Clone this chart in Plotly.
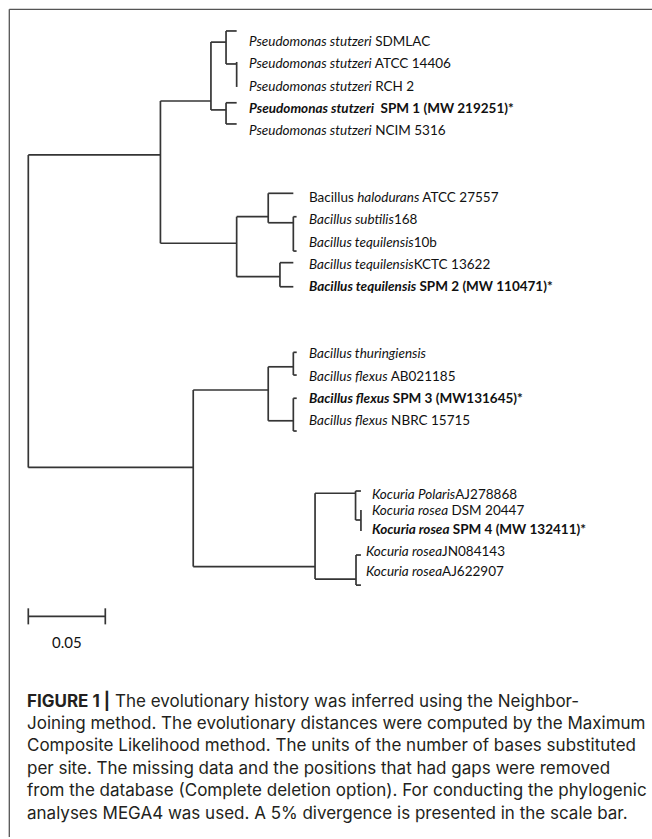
import plotly.graph_objects as go

# ---------------- data ----------------
# tree nodes: name, parent, depth (substitutions/site from root), vertical position (row units)
node_name = ["R", "U", "P", "A", "SDMLAC", "B", "ATCC14406", "RCH2", "C", "SPM1", "NCIM5316",
             "Bn", "H", "halodurans", "S", "subtilis", "10b", "K", "KCTC", "SPM2",
             "L", "Bf", "T", "thuringiensis", "AB021185", "F", "SPM3", "NBRC",
             "Kn", "Kp", "Polaris", "Kq", "DSM", "SPM4", "J2", "JN", "AJ"]
node_parent = [None, "R", "U", "P", "A", "A", "B", "B", "P", "C", "C",
               "U", "Bn", "H", "H", "S", "S", "Bn", "K", "K",
               "R", "L", "Bf", "T", "T", "Bf", "F", "F",
               "L", "Kn", "Kp", "Kp", "Kq", "Kq", "Kn", "J2", "J2"]
node_depth = [0.0, 0.0858, 0.1186, 0.1284, 0.1353, 0.1353, 0.1353, 0.1353, 0.1284, 0.1353, 0.1353,
              0.1353, 0.1558, 0.1721, 0.1721, 0.1742, 0.1742, 0.1634, 0.1721, 0.1721,
              0.1071, 0.1558, 0.1721, 0.1743, 0.1743, 0.1721, 0.1743, 0.1743,
              0.1862, 0.2125, 0.2160, 0.2160, 0.2160, 0.2160, 0.2128, 0.2160, 0.2160]
node_row = [None, 5.11, 2.69, 0.05, -0.45, 1.03, 0.94, 2.06, 3.09, 2.77, 3.72,
            9.07, 7.88, 6.83, 8.15, 7.88, 9.42, 10.57, 9.94, 11.02,
            19.12, 15.65, 14.61, 13.96, 14.98, 17.03, 16.02, 17.49,
            23.57, 20.28, 20.18, 21.48, 21.03, 21.97, 24.13, 23.05, 24.40]

labels = [
    "<i>Pseudomonas stutzeri</i> SDMLAC",
    "<i>Pseudomonas stutzeri</i> ATCC 14406",
    "<i>Pseudomonas stutzeri</i> RCH 2",
    "<b><i>Pseudomonas stutzeri</i>\u00a0 SPM 1 (MW 219251)*</b>",
    "<i>Pseudomonas stutzeri</i> NCIM 5316",
    "Bacillus <i>halodurans</i> ATCC 27557",
    "<i>Bacillus subtilis</i>168",
    "<i>Bacillus tequilensis</i>10b",
    "<i>Bacillus tequilensis</i>KCTC 13622",
    "<b><i>Bacillus tequilensis</i> SPM 2 (MW 110471)*</b>",
    "<i>Bacillus thuringiensis</i>",
    "<i>Bacillus flexus</i> AB021185",
    "<b><i>Bacillus flexus</i> SPM 3 (MW131645)*</b>",
    "<i>Bacillus flexus</i> NBRC 15715",
    "<i>Kocuria Polaris</i>AJ278868",
    "<i>Kocuria rosea</i> DSM 20447",
    "<b><i>Kocuria rosea</i> SPM 4 (MW 132411)*</b>",
    "<i>Kocuria rosea</i>JN084143",
    "<i>Kocuria rosea</i>AJ622907",
]
label_depth = [0.1418] * 5 + [0.1807] * 9 + [0.2222, 0.2222, 0.2222, 0.2183, 0.2183]
label_row = [0, 1, 2, 3, 4, 7, 8, 9, 10, 11, 14, 15, 16, 17, 20.3, 21.05, 21.9, 22.85, 23.75]

scale_len = 0.05
scale_label = "0.05"
scale_row = 25.8

caption_lines = [
    "<b>FIGURE 1 |</b> The evolutionary history was inferred using the Neighbor-",
    "Joining method. The evolutionary distances were computed by the Maximum",
    "Composite Likelihood method. The units of the number of bases substituted",
    "per site. The missing data and the positions that had gaps were removed",
    "from the database (Complete deletion option). For conducting the phylogenic",
    "analyses MEGA4 was used. A 5% divergence is presented in the scale bar.",
]

# ---------------- build tree segments ----------------
W, H = 652, 839
ROW_PX = 22.3
ROW0_PX = 41.0
PX_PER_UNIT = 1540.0
ROOT_PX = 28.3

idx = {n: i for i, n in enumerate(node_name)}
children = {n: [] for n in node_name}
for n, p in zip(node_name, node_parent):
    if p is not None:
        children[p].append(n)

xs, ys = [], []
for i, n in enumerate(node_name):
    p = node_parent[i]
    if p is None:
        continue
    xs += [node_depth[idx[p]], node_depth[i], None]
    ys += [node_row[i], node_row[i], None]
for n in node_name:
    ch = children[n]
    if ch:
        rows = [node_row[idx[c]] for c in ch]
        xs += [node_depth[idx[n]], node_depth[idx[n]], None]
        ys += [min(rows), max(rows), None]

fig = go.Figure()
fig.add_trace(go.Scatter(x=xs, y=ys, mode="lines",
                         line=dict(color="#353535", width=1.7),
                         hoverinfo="skip", showlegend=False))

# scale bar
tick = 0.36
fig.add_trace(go.Scatter(
    x=[0, scale_len, None, 0, 0, None, scale_len, scale_len],
    y=[scale_row, scale_row, None, scale_row - tick, scale_row + tick, None, scale_row - tick, scale_row + tick],
    mode="lines", line=dict(color="#353535", width=1.7), hoverinfo="skip", showlegend=False))

LABEL_FONT = dict(family="Lato", size=13.5, color="#111111")
for t, d, r in zip(labels, label_depth, label_row):
    fig.add_annotation(x=d, y=r, xref="x", yref="y", text=t, showarrow=False,
                       xanchor="left", yanchor="middle", font=LABEL_FONT)

fig.add_annotation(x=scale_len / 2, y=scale_row + 1.17, xref="x", yref="y", text=scale_label,
                   showarrow=False, xanchor="center", yanchor="middle",
                   font=dict(family="Lato", size=15, color="#111111"))

# caption
cap_y0 = 700.0
cap_dy = 22.5
for k, line in enumerate(caption_lines):
    fig.add_annotation(x=25 / W, y=1 - (cap_y0 + k * cap_dy) / H, xref="paper", yref="paper",
                       text=line, showarrow=False, xanchor="left", yanchor="middle",
                       font=dict(family="Inter", size=17, color="#231f20"))

# frame lines (top and left)
fig.add_shape(type="line", xref="paper", yref="paper", x0=9.3 / W, x1=1, y0=1 - 9.3 / H, y1=1 - 9.3 / H,
              line=dict(color="#555555", width=1.3))
fig.add_shape(type="line", xref="paper", yref="paper", x0=9.3 / W, x1=9.3 / W, y0=1 - 9.3 / H, y1=1 - 837 / H,
              line=dict(color="#555555", width=1.3))

x_lo = -ROOT_PX / PX_PER_UNIT
x_hi = (W - ROOT_PX) / PX_PER_UNIT
y_top = -ROW0_PX / ROW_PX
y_bot = (H - ROW0_PX) / ROW_PX

fig.update_layout(
    width=W, height=H, margin=dict(l=0, r=0, t=0, b=0),
    paper_bgcolor="white", plot_bgcolor="white",
    xaxis=dict(range=[x_lo, x_hi], visible=False, fixedrange=True),
    yaxis=dict(range=[y_bot, y_top], visible=False, fixedrange=True),
)

fig.write_html("out.html")
